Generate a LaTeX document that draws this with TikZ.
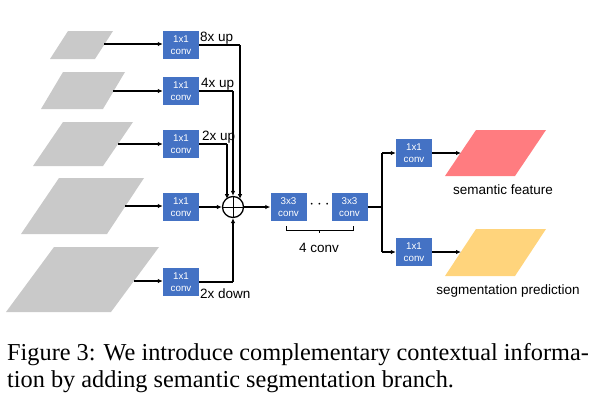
\documentclass[tikz,border=0pt]{standalone}
\usepackage{fontspec}
\setmainfont{Liberation Serif}
\setsansfont{Liberation Sans}
\usetikzlibrary{arrows.meta,decorations.pathreplacing}
\definecolor{convblue}{HTML}{4472C4}
\definecolor{featgray}{HTML}{C9C9C9}
\definecolor{featred}{HTML}{FF7C80}
\definecolor{featyellow}{HTML}{FFD47C}
\begin{document}
\begin{tikzpicture}[x=1pt,y=-1pt,
  conv/.style={fill=convblue, minimum width=36pt, minimum height=28pt, inner sep=0pt, text=white, font=\sffamily\fontsize{9.8}{12.5}\selectfont, align=center},
  lbl/.style={font=\sffamily\fontsize{13.5}{16}\selectfont, inner sep=0pt},
  arr/.style={-{Latex[length=5pt,width=4.5pt]}, line width=1.3pt},
  ln/.style={line width=1.3pt}]
\useasboundingbox (0,0) rectangle (602,405);

% feature maps on the left
\fill[featgray] (68,31) -- (113,31) -- (95,59) -- (50,59) -- cycle;
\fill[featgray] (63,72) -- (125,72) -- (103,109) -- (41,109) -- cycle;
\fill[featgray] (63,122) -- (133,122) -- (103,166) -- (33,166) -- cycle;
\fill[featgray] (59,178) -- (144,178) -- (107,234) -- (21,234) -- cycle;
\fill[featgray] (54,247) -- (159,247) -- (111,312) -- (6,312) -- cycle;
\coordinate (p1) at (104,44);
\coordinate (p2) at (113,91);
\coordinate (p3) at (118,144);
\coordinate (p4) at (125,206);
\coordinate (p5) at (134,281);

% 1x1 conv boxes
\node[conv] (c1) at (181,45) {1x1\\conv};
\node[conv] (c2) at (181,91) {1x1\\conv};
\node[conv] (c3) at (181,144) {1x1\\conv};
\node[conv] (c4) at (181,207) {1x1\\conv};
\node[conv] (c5) at (181,282) {1x1\\conv};

\draw[arr] (p1) -- (c1.west |- p1);
\draw[arr] (p2) -- (c2.west |- p2);
\draw[arr] (p3) -- (c3.west |- p3);
\draw[arr] (p4) -- (c4.west |- p4);
\draw[arr] (p5) -- (c5.west |- p5);

% labels
\node[lbl, anchor=base west] (l1) at (200,41) {8x up};
\node[lbl, anchor=base west] (l2) at (201,87) {4x up};
\node[lbl, anchor=base west] (l3) at (202,140) {2x up};
\node[lbl, anchor=base west] (l4) at (200,298) {2x down};

% sum node
\node[draw, circle, line width=1.3pt, minimum size=21pt, inner sep=0pt] (sum) at (233,207) {};
\draw[line width=1pt] (sum.north) -- (sum.south) (sum.west) -- (sum.east);

\coordinate (j1) at (240,45);
\coordinate (j2) at (233,91);
\coordinate (j3) at (227,144);
\draw[ln] (c1.east) -- (j1);
\draw[arr] (j1) -- (j1 |- sum.north east);
\draw[ln] (c2.east) -- (j2);
\draw[arr] (j2) -- (sum.north);
\draw[ln] (c3.east) -- (j3);
\draw[arr] (j3) -- (j3 |- sum.north west);
\draw[arr] (c4.east) -- (sum.west);
\coordinate (j5) at (233,282);
\draw[ln] (c5.east) -- (j5);
\draw[arr] (j5) -- (sum.south);

% 3x3 convs
\node[conv] (d1) at (288.5,207) {3x3\\conv};
\node[conv] (d2) at (349.5,207) {3x3\\conv};
\draw[arr] (sum.east) -- (d1.west);
\node[inner sep=0pt] (dots) at (319.5,205) {\fontsize{16}{16}\selectfont$\cdots$};
\draw[line width=0.8pt] (286,226) -- (286,230) -- (353,230) -- (353,226) (319.5,230) -- (319.5,233);
\node[lbl] (four) at (319,248) {4 conv};

% branch
\coordinate (br) at (382,207);
\draw[line width=2.2pt] (d2.east) -- (br);
\node[conv] (e1) at (414,153) {1x1\\conv};
\node[conv] (e2) at (414,252) {1x1\\conv};
\coordinate (bt) at (382,153);
\coordinate (bb) at (382,252);
\draw[ln] (bt) -- (bb);
\draw[arr] (bt) -- (e1.west);
\draw[arr] (bb) -- (e2.west);

% outputs
\fill[featred] (476,130) -- (546,130) -- (515,176) -- (445,176) -- cycle;
\fill[featyellow] (476,229) -- (546,229) -- (515,276) -- (445,276) -- cycle;
\coordinate (o1) at (461,153);
\coordinate (o2) at (461,252);
\draw[arr] (e1.east) -- (o1);
\draw[arr] (e2.east) -- (o2);
\node[lbl] (t1) at (503,190) {semantic feature};
\node[lbl] (t2) at (508,291) {segmentation prediction};

% caption
\node[anchor=west, inner sep=0pt, font=\fontsize{24.3}{27}\selectfont] (cap1) at (7,355) {Figure 3: We introduce complementary contextual informa-};
\node[anchor=west, inner sep=0pt, font=\fontsize{24.3}{27}\selectfont] (cap2) at (7,382) {tion by adding semantic segmentation branch.};
\end{tikzpicture}
\end{document}
